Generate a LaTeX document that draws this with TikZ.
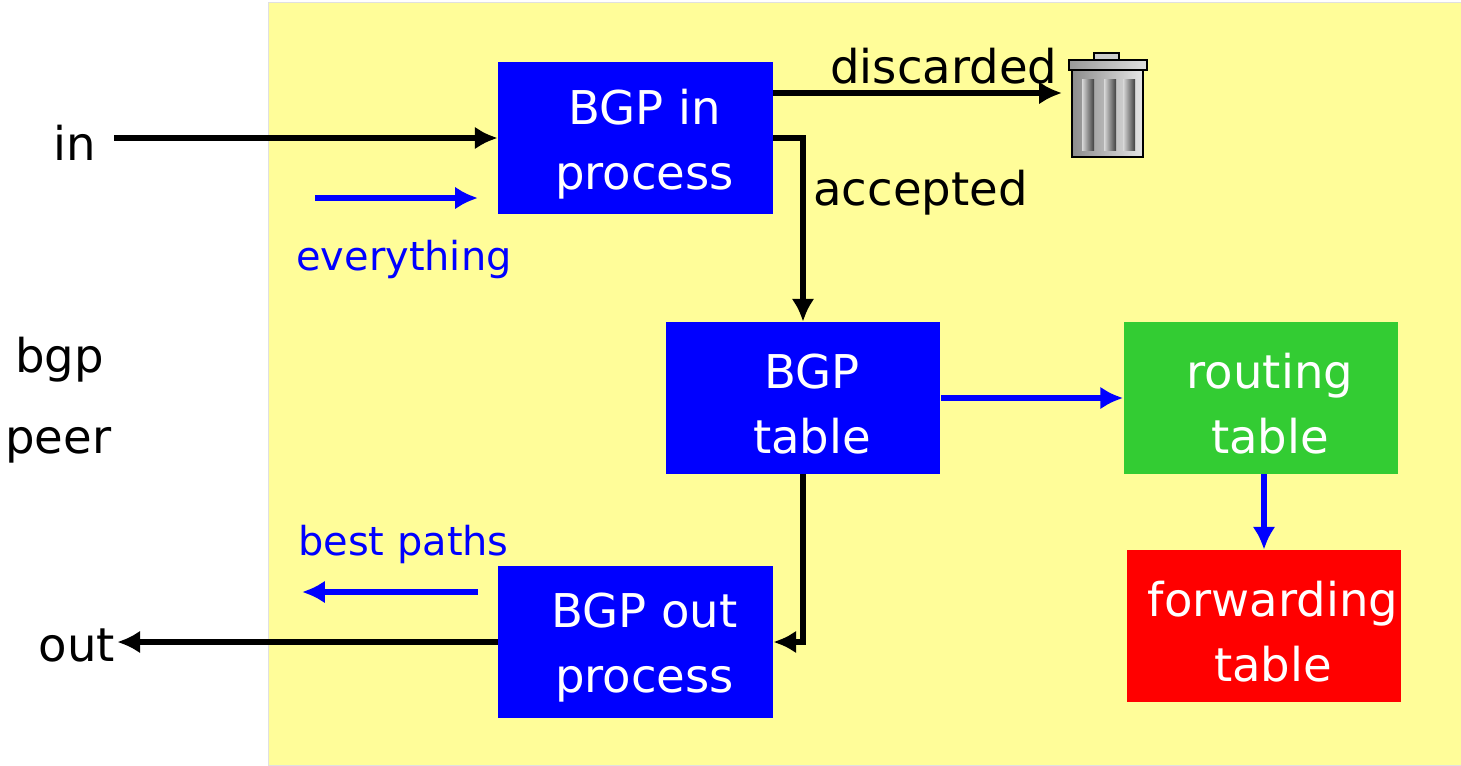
\documentclass[tikz,border=0pt]{standalone}
\usepackage{fontspec}
\setmainfont{DejaVu Sans}
\usetikzlibrary{arrows.meta, positioning}
\definecolor{memo}{RGB}{255,253,153}
\definecolor{rtgreen}{RGB}{51,204,51}

\begin{document}
\begin{tikzpicture}[x=0.02cm, y=-0.02cm,
		box/.style={fill=blue, minimum width=5.5cm, minimum height=3.04cm,
			label={[text=white, align=center, font=\fontsize{26.5}{37}\selectfont, xshift=0.18cm, yshift=-0.12cm]center:#1}},
		lbl/.style={inner sep=0, anchor=base west, font=\fontsize{26.5}{37}\selectfont},
		bluelbl/.style={lbl, text=blue, font=\fontsize{22.7}{30}\selectfont},
		blk/.style={line width=3.5pt, -{Latex[length=13pt,width=13pt]}},
		blu/.style={blk, draw=blue, line width=3.3pt}]
		\useasboundingbox (0,0) rectangle (1461,765);
		\fill[memo, draw=black!12] (268,2) rectangle (1461,765);
		% boxes
		\node[box={BGP in\\process}] (bgpin) at (635.5,138) {};
		\node[box={BGP\\table}] (bgptab) at (803,398) {};
		\node[box={routing\\table}, fill=rtgreen] (rtab) at (1261,398) {};
		\node[box={forwarding\\table}, fill=red] (ftab) at (1264,626) {};
		\node[box={BGP out\\process}] (bgpout) at (635.5,642) {};
		% peer side
		\node[lbl, anchor=center, inner xsep=10pt] (in) at (75,143) {in};
		\node[lbl, anchor=center, inner xsep=1pt] (out) at (77,645) {out};
		\node[lbl] (bgp) at (15,372) {bgp};
		\node[lbl] (peer) at (5,453) {peer};
		\node[lbl] (disc) at (830,83) {discarded};
		\node[lbl] (acc) at (813,205) {accepted};
		\node[bluelbl] (every) at (296,270) {everything};
		\node[bluelbl] (best) at (298,555) {best paths};
		\coordinate (ev0) at (315,198);
		\coordinate (ev1) at (478,198);
		\coordinate (bp0) at (478,592);
		\coordinate (bp1) at (302,592);
		\coordinate (trash) at (1062,93);
		% connectors
		\draw[blk] (in.east |- bgpin) -- (bgpin);
		\draw[blk] (bgpin.east |- trash) -- (trash);
		\draw[blk] (bgpin.east) -| (bgptab.north);
		\draw[blk] (bgptab.south) |- (bgpout.east);
		\draw[blk] (bgpout) -- (out.east |- bgpout);
		\draw[blu] (ev0) -- (ev1);
		\draw[blu] (bp0) -- (bp1);
		\draw[blu] (bgptab) -- (rtab);
		\draw[blu] (rtab.south -| ftab) -- (ftab.north);
		% trash can
		\draw[fill=gray!40, line width=1.2pt] (1094,53) rectangle (1119,60);
		\shade[left color=gray!90, right color=gray!20, draw=black, line width=1.2pt] (1072,70) rectangle (1143,157);
		\foreach \sx in {1082,1104,1123}
			\shade[left color=gray!30, right color=black!75] (\sx,79) rectangle ++(12,71);
		\shade[left color=gray!80, right color=gray!25, draw=black, line width=1.2pt] (1069,60) rectangle (1147,70);
	\end{tikzpicture}
\end{document}
